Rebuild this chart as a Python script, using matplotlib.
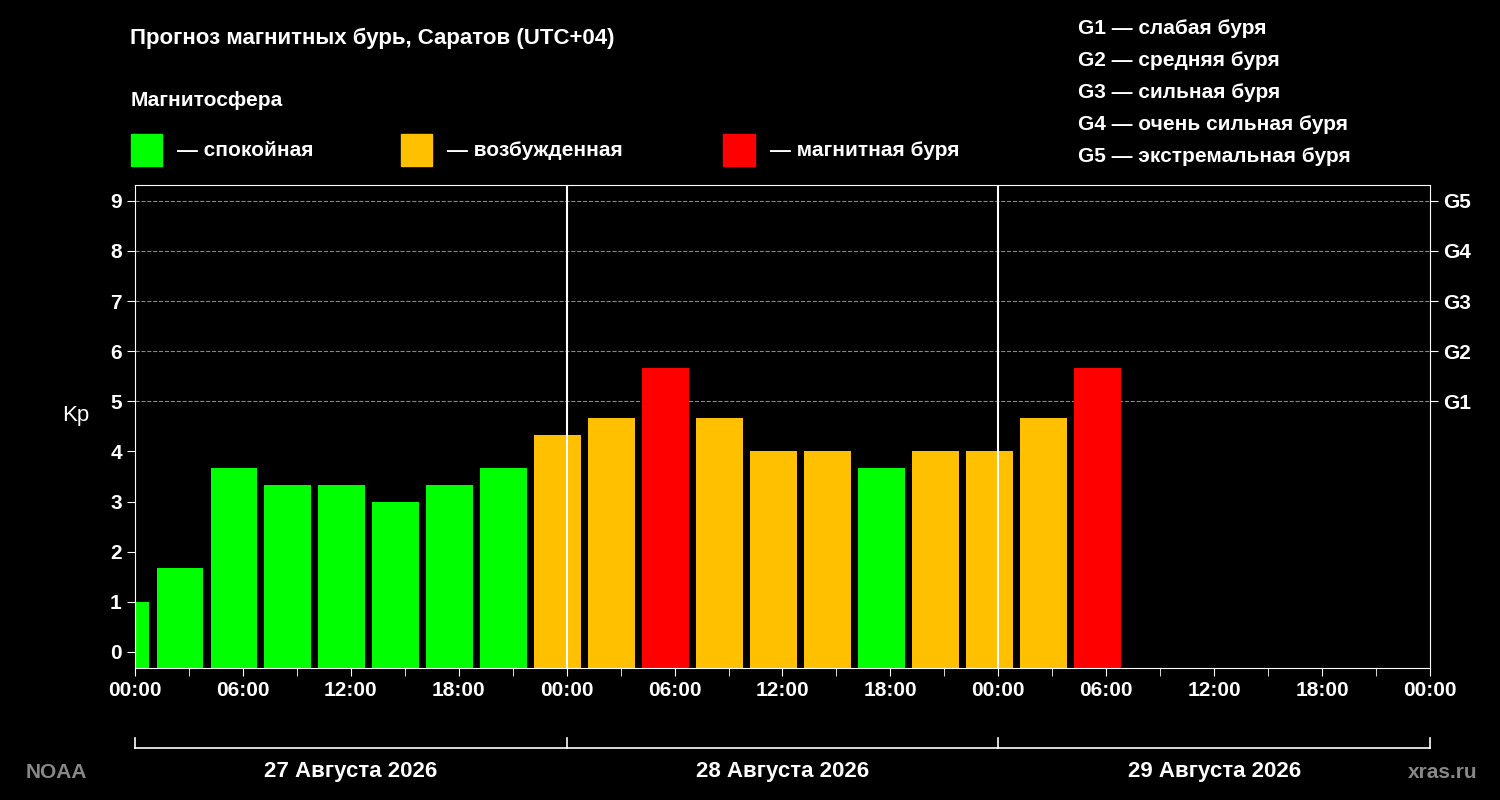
import matplotlib.pyplot as plt
from matplotlib.patches import Rectangle

# Kp per 3-hour bin, local time (UTC+04); first bin is clipped at 00:00
bin_starts = [-2, 1, 4, 7, 10, 13, 16, 19, 22, 25, 28, 31, 34, 37, 40, 43, 46, 49, 52]
kp = [1.0, 1.67, 3.67, 3.33, 3.33, 3.0, 3.33, 3.67, 4.33, 4.67, 5.67, 4.67,
      4.0, 4.0, 3.67, 4.0, 4.0, 4.67, 5.67]
dates = ["27 Августа 2026", "28 Августа 2026", "29 Августа 2026"]
g_labels = ["G1", "G2", "G3", "G4", "G5"]
g_text = ["G1 — слабая буря", "G2 — средняя буря", "G3 — сильная буря",
          "G4 — очень сильная буря", "G5 — экстремальная буря"]

GREEN, ORANGE, RED = "#00ff00", "#ffc000", "#ff0000"

def color_for(v):
    if v < 4:
        return GREEN
    if v < 5:
        return ORANGE
    return RED

plt.rcParams['font.family'] = ['Liberation Sans', 'DejaVu Sans']
plt.rcParams['font.weight'] = 'bold'

fig = plt.figure(figsize=(15, 8), dpi=100, facecolor='black')
ax = fig.add_axes([0.09, 0.165, 0.8633, 0.604], facecolor='black')

for s, v in zip(bin_starts, kp):
    left = max(s + 0.2, 0.05)
    right = s + 2.8
    ax.bar(left, v + 0.32, width=right - left, bottom=-0.32, align='edge',
           color=color_for(v))

for y in range(5, 10):
    ax.axhline(y, color='#888888', lw=0.8, ls='--', zorder=0)
for x in (24, 48):
    ax.axvline(x, color='white', lw=1.5)

ax.set_xlim(0, 72)
ax.set_ylim(-0.32, 9.32)
for sp in ax.spines.values():
    sp.set_color('white')
ax.set_yticks(range(10))
ax.tick_params(colors='white', labelsize=15, length=6, right=True)
ax.set_xticks(range(0, 73, 6))
ax.set_xticklabels(["00:00", "06:00", "12:00", "18:00"] * 3 + ["00:00"])
ax.set_xticks(range(0, 73, 3), minor=True)
ax.tick_params(axis='x', which='minor', colors='white', length=6)
ax.set_ylabel("Kp", color='white', fontsize=16, rotation=0, labelpad=25)

ax2 = ax.twinx()
ax2.set_ylim(ax.get_ylim())
ax2.set_yticks(range(5, 10))
ax2.set_yticklabels(g_labels)
ax2.tick_params(colors='white', labelsize=15, length=6)
for sp in ax2.spines.values():
    sp.set_visible(False)

# date bracket below the axis
y0 = 0.065
fig.add_artist(plt.Line2D([0.09, 0.9533], [y0, y0], color='white', lw=1.2))
for i in range(4):
    xf = 0.09 + 0.8633 * i / 3
    fig.add_artist(plt.Line2D([xf, xf], [y0, y0 + 0.012], color='white', lw=1.2))
for i, d in enumerate(dates):
    xf = 0.09 + 0.8633 * (i + 0.5) / 3
    fig.text(xf, 0.035, d, color='white', fontsize=16, ha='center', va='center')
fig.text(0.017, 0.035, "NOAA", color='#888888', fontsize=15, va='center')
fig.text(0.985, 0.035, "xras.ru", color='#888888', fontsize=15, va='center', ha='right')

fig.text(0.087, 0.952, "Прогноз магнитных бурь, Саратов (UTC+04)", color='white',
         fontsize=16, va='center')
fig.text(0.087, 0.874, "Магнитосфера", color='white', fontsize=15, va='center')
for xf, c, t in [(0.087, GREEN, "— спокойная"), (0.267, ORANGE, "— возбужденная"),
                 (0.482, RED, "— магнитная буря")]:
    fig.add_artist(Rectangle((xf, 0.792), 0.021, 0.04, color=c, transform=fig.transFigure))
    fig.text(xf + 0.031, 0.812, t, color='white', fontsize=15, va='center')
for i, t in enumerate(g_text):
    fig.text(0.719, 0.965 - i * 0.04, t, color='white', fontsize=15, va='center')

fig.savefig("out.png", facecolor='black')
